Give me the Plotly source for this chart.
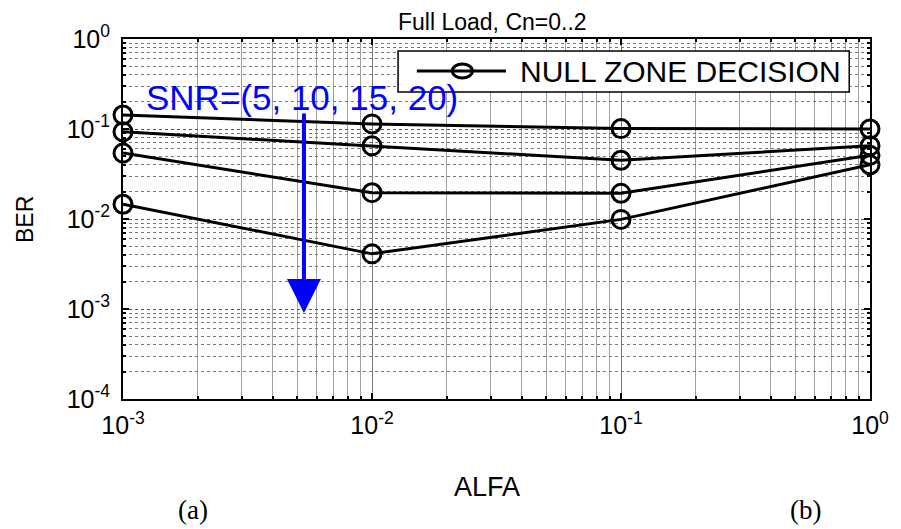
import math
import plotly.graph_objects as go

# ---------------- data ----------------
alfa = [1e-3, 1e-2, 1e-1, 1e0]
ber_snr5 = [0.143, 0.114, 0.101, 0.100]
ber_snr10 = [0.093, 0.065, 0.045, 0.065]
ber_snr15 = [0.054, 0.0196, 0.0193, 0.051]
ber_snr20 = [0.0146, 0.0041, 0.0099, 0.040]
series = [ber_snr5, ber_snr10, ber_snr15, ber_snr20]

x_tickvals = [1e-3, 1e-2, 1e-1, 1e0]
x_ticktext = ["10<sup>-3</sup>", "10<sup>-2</sup>", "10<sup>-1</sup>", "10<sup>0</sup>"]
y_tickvals = [1e-4, 1e-3, 1e-2, 1e-1, 1e0]
y_ticktext = ["10<sup>-4</sup>", "10<sup>-3</sup>", "10<sup>-2</sup>", "10<sup>-1</sup>", "10<sup>0</sup>"]

arrow_x = 0.00533
arrow_top = 0.1545
arrow_bottom = 0.0009

FONT = "Liberation Sans, Arial, sans-serif"

fig = go.Figure()
for s in series:
    fig.add_trace(go.Scatter(
        x=alfa, y=s, mode="lines+markers",
        line=dict(color="black", width=3),
        marker=dict(symbol="circle-open", size=18, color="black", line=dict(width=3, color="black")),
        cliponaxis=False, showlegend=False, name="NULL ZONE DECISION",
    ))

# the page body has an 8px margin, so the figure is shrunk and margins shifted by 8px
fig.update_layout(
    width=893, height=521,
    margin=dict(l=115, r=23, t=31, b=130),
    paper_bgcolor="white", plot_bgcolor="white",
    font=dict(family=FONT, color="black", size=22),
    showlegend=False,
)

fig.update_xaxes(
    type="log", range=[-3, 0],
    tickvals=x_tickvals, ticktext=x_ticktext,
    ticks="inside", ticklen=6, tickwidth=1.5, tickcolor="black",
    showline=True, linecolor="black", linewidth=2, mirror="allticks",
    showgrid=True, gridcolor="#7a7a7a", gridwidth=1,
    minor=dict(dtick="D1", ticks="inside", ticklen=3, tickcolor="black",
               showgrid=True, gridcolor="#a0a0a0", gridwidth=1),
    tickfont=dict(size=25), ticklabelstandoff=3, zeroline=False,
)
fig.update_yaxes(
    type="log", range=[-4, 0],
    tickvals=y_tickvals, ticktext=y_ticktext,
    ticks="inside", ticklen=6, tickwidth=1.5, tickcolor="black",
    showline=True, linecolor="black", linewidth=2, mirror="allticks",
    showgrid=True, gridcolor="#555555", gridwidth=1, griddash="dot",
    minor=dict(dtick="D1", ticks="inside", ticklen=3, tickcolor="black",
               showgrid=True, gridcolor="#777777", gridwidth=1, griddash="dot"),
    tickfont=dict(size=25), ticklabelstandoff=6, zeroline=False,
)

# title and axis labels
fig.add_annotation(text="Full Load, Cn=0..2", xref="paper", yref="paper",
                   x=0.495, y=1 + 31 / 360, xanchor="center", yanchor="top",
                   showarrow=False, borderpad=0, font=dict(size=23))
fig.add_annotation(text="ALFA", xref="paper", yref="paper",
                   x=(491 - 123) / 755, y=1 - (487 - 39) / 360, xanchor="center", yanchor="middle",
                   showarrow=False, font=dict(size=27))
fig.add_annotation(text="BER", xref="paper", yref="paper",
                   x=(24 - 123) / 755, y=1 - (220 - 39) / 360, xanchor="center", yanchor="middle",
                   textangle=-90, showarrow=False, font=dict(size=23))
fig.add_annotation(text="(a)", xref="paper", yref="paper",
                   x=(194 - 123) / 755, y=1 - (510 - 39) / 360, xanchor="center", yanchor="middle",
                   showarrow=False, font=dict(size=27, family="Liberation Serif, Times New Roman, serif"))
fig.add_annotation(text="(b)", xref="paper", yref="paper",
                   x=(813 - 123) / 755, y=1 - (510 - 39) / 360, xanchor="center", yanchor="middle",
                   showarrow=False, font=dict(size=27, family="Liberation Serif, Times New Roman, serif"))

# SNR annotation and arrow
fig.add_annotation(text="SNR=(5, 10, 15, 20)", xref="paper", yref="paper",
                   x=(304 - 123) / 755, y=1 - (97 - 39) / 360, xanchor="center", yanchor="middle",
                   showarrow=False, font=dict(size=35, color="#0000ff"))
fig.add_annotation(x=math.log10(arrow_x), y=math.log10(arrow_bottom),
                   ax=math.log10(arrow_x), ay=math.log10(arrow_top),
                   xref="x", yref="y", axref="x", ayref="y", text="",
                   showarrow=True, arrowhead=2, arrowsize=1.7, arrowwidth=4, arrowcolor="#0000ff")

# legend box (drawn manually, MATLAB style)
lx0, lx1 = (401 - 123) / 755, (857 - 123) / 755
ly0, ly1 = 1 - (92 - 39) / 360, 1 - (51 - 39) / 360
ly = 1 - (71 - 39) / 360
fig.add_shape(type="rect", xref="paper", yref="paper", x0=lx0, x1=lx1, y0=ly0, y1=ly1,
              line=dict(color="black", width=1.5), fillcolor="white", layer="above")
fig.add_shape(type="line", xref="paper", yref="paper",
              x0=(420 - 123) / 755, x1=(510 - 123) / 755, y0=ly, y1=ly,
              line=dict(color="black", width=3), layer="above")
fig.add_shape(type="circle", xref="paper", yref="paper", xsizemode="pixel", ysizemode="pixel",
              xanchor=(466 - 123) / 755, yanchor=ly, x0=-10, x1=10, y0=-7, y1=7,
              line=dict(color="black", width=3), fillcolor="rgba(0,0,0,0)", layer="above")
fig.add_annotation(text="NULL ZONE DECISION", xref="paper", yref="paper",
                   x=(522 - 123) / 755, y=ly, xanchor="left", yanchor="middle",
                   showarrow=False, font=dict(size=30))

fig.write_html("out.html")
